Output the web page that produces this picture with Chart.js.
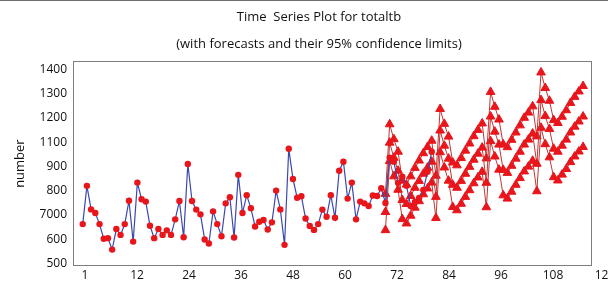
<!DOCTYPE html>
<html><head><meta charset="utf-8">
<script src="https://cdn.jsdelivr.net/npm/chart.js@4/dist/chart.umd.min.js"></script>
<style>
html,body{margin:0;padding:0;overflow:hidden;background:#fff;width:608px;height:283px;}
#wrap{position:relative;width:638px;height:283px;}
#topline{position:absolute;left:0;top:0;width:608px;height:1px;background:#6e6e6e;}
</style></head><body>
<div id="wrap"><canvas id="c" width="638" height="283"></canvas><div id="topline"></div></div>
<script>
const chartTitle = 'Time  Series Plot for totaltb';
const chartSubtitle = '(with forecasts and their 95% confidence limits)';
const yAxisTitle = 'number';
const xTickLabels = ['1','12','24','36','48','60','72','84','96','108','120'];
const yTickLabels = ['500','600','7000','800','900','1100','1200','1300','1400'];

// observed series, t = 1..84
const observed = [683,860,751,734,683,615,618,565,660,633,683,791,
  602,875,798,787,675,618,660,633,654,633,705,790,
  622,961,790,750,728,612,593,742,683,627,779,807,
  621,911,734,817,756,672,694,702,658,691,838,751,
  587,1032,892,805,812,709,674,656,683,750,717,817,
  712,930,972,801,875,705,787,779,767,815,813,849,
  781,990,972,874,902,860,767,785,804,841,925,1018];

// forecasts, t = 73..120
const forecastStart = 73;
const forecast = [739,1060,990,930,795,776,813,851,883,916,944,972,
  809,1116,1046,986,865,851,883,916,948,981,1009,1037,
  874,1181,1111,1051,934,920,953,986,1018,1051,1074,1102,
  962,1257,1183,1123,1032,1018,1046,1074,1107,1134,1158,1181];
const lower95 = [655,975,904,842,706,686,722,759,789,821,848,875,
  711,1016,945,884,762,747,777,809,840,872,899,925,
  761,1067,996,935,816,801,833,865,896,927,949,976,
  835,1129,1053,992,900,885,912,938,970,996,1019,1040];
const upper95 = [823,1145,1076,1018,884,866,904,943,977,1011,1040,1069,
  907,1216,1147,1088,968,955,989,1023,1056,1090,1119,1149,
  987,1295,1226,1167,1052,1039,1073,1107,1140,1175,1199,1228,
  1089,1385,1313,1254,1164,1151,1180,1210,1244,1272,1297,1322];

const RED = '#e8151b';
const LINE_RED = '#c23434';
const BLUE = '#3c48ae';
const FONT = "'Open Sans', sans-serif";

function fc(arr){ return arr.map((v,i)=>({x:forecastStart+i, y:v})); }
function fcSet(arr){
  return {data: fc(arr), xAxisID:'x', yAxisID:'y', borderColor: LINE_RED, borderWidth: 1,
    pointStyle:'triangle', pointRadius:5, pointBackgroundColor: RED, pointBorderColor: RED,
    pointBorderWidth:1, tension:0, fill:false};
}

const framePlugin = {
  id:'frame',
  beforeDatasetsDraw(chart){
    const a = chart.chartArea, ctx = chart.ctx;
    ctx.save(); ctx.strokeStyle = '#7d7d7d'; ctx.lineWidth = 1;
    ctx.strokeRect(Math.round(a.left)+0.5, Math.round(a.top)+0.5,
      Math.round(a.right-a.left)-1, Math.round(a.bottom-a.top)-1);
    ctx.restore();
  }
};

new Chart(document.getElementById('c'), {
  type:'line',
  data:{ datasets:[
    {data: observed.map((v,i)=>({x:i+1,y:v})), xAxisID:'x', yAxisID:'y',
     borderColor: BLUE, borderWidth: 1.2, pointStyle:'circle', pointRadius:3.2,
     pointBackgroundColor: RED, pointBorderColor: RED, pointBorderWidth:0, tension:0, fill:false},
    fcSet(forecast), fcSet(lower95), fcSet(upper95)
  ]},
  options:{
    responsive:false, animation:false, devicePixelRatio:1,
    layout:{padding:0},
    plugins:{
      legend:{display:false}, tooltip:{enabled:false},
      title:{display:true, text:chartTitle, color:'#111', font:{family:FONT, size:13, weight:'normal'}, padding:{top:9,bottom:12}},
      subtitle:{display:true, text:chartSubtitle, color:'#111', font:{family:FONT, size:13, weight:'normal'}, padding:{top:0,bottom:9}}
    },
    scales:{
      x:{type:'linear', display:false, min:-1.31, max:122.12},
      x2:{type:'linear', position:'bottom', min:-2.77, max:117,
        afterBuildTicks:(s)=>{ s.ticks = xTickLabels.map((_,i)=>({value:i*12})); },
        afterFit:(s)=>{ s.height = 17; },
        grid:{display:false, drawTicks:false}, border:{display:false},
        ticks:{autoSkip:false, maxRotation:0, padding:2, color:'#111', font:{family:FONT, size:12},
          callback:(v,i)=>xTickLabels[i]}},
      y:{type:'linear', position:'left', min:489, max:1437,
        afterBuildTicks:(s)=>{ s.ticks = yTickLabels.map((_,i)=>({value:500 + i*900/(yTickLabels.length-1)})); },
        afterFit:(s)=>{ s.width = 73; },
        grid:{display:false, drawTicks:false}, border:{display:false},
        title:{display:true, text:yAxisTitle, color:'#111', font:{family:FONT, size:13}, padding:{top:12,bottom:2}},
        ticks:{autoSkip:false, padding:6, color:'#111', font:{family:FONT, size:12},
          callback:(v,i)=>yTickLabels[i]}},
      yR:{type:'linear', position:'right', min:0, max:1,
        afterFit:(s)=>{ s.width = 46; },
        grid:{display:false, drawTicks:false}, border:{display:false}, ticks:{display:false}}
    }
  },
  plugins:[framePlugin]
});
</script>
</body></html>
